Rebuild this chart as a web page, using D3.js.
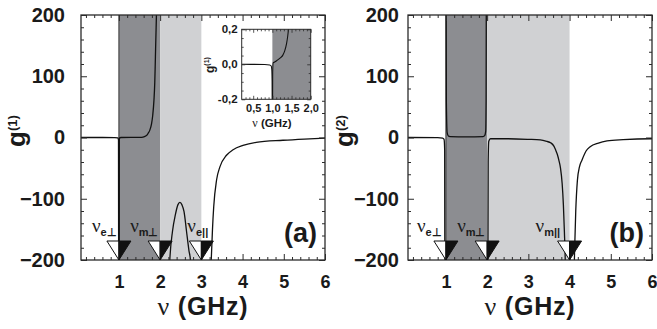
<!DOCTYPE html>
<html>
<head>
<meta charset="utf-8">
<script src="https://cdn.jsdelivr.net/npm/d3@7"></script>
<style>
    body { margin: 0; background: #fff; }
    text { font-family: "Liberation Sans", Arial, sans-serif; font-weight: bold; fill: #1a1a1a; }
    .nu { font-family: "Liberation Serif", "DejaVu Serif", serif; font-weight: normal; }
</style>
</head>
<body>
<svg id="chart" width="657" height="329"></svg>
<script>

//axis values
var x_ticks = [1, 2, 3, 4, 5, 6];
var x_minor = [0.2,0.4,0.6,0.8,1.2,1.4,1.6,1.8,2.2,2.4,2.6,2.8,3.2,3.4,3.6,3.8,4.2,4.4,4.6,4.8,5.2,5.4,5.6,5.8];
var y_ticks = [-200, -100, 0, 100, 200];
var y_minor = [-180,-160,-140,-120,-80,-60,-40,-20,20,40,60,80,120,140,160,180];

//inset axis values
var inset_x_ticks = [0.5, 1.0, 1.5, 2.0];
var inset_x_minor = [0.3,0.4,0.6,0.7,0.8,0.9,1.1,1.2,1.3,1.4,1.6,1.7,1.8,1.9];
var inset_y_ticks = [-0.2, 0.0, 0.2];
var inset_y_minor = [-0.15, -0.1, -0.05, 0.05, 0.1, 0.15];

//shaded bands [from, to, shade]
var bands_a = [[1, 2, "dark"], [2, 3, "light"]];
var bands_b = [[1, 2, "dark"], [2, 4, "light"]];
var inset_bands = [[1, 2, "dark"]];

//resonance markers
var marks_a = [1, 2, 3];
var mark_labels_a = ["e\u22a5", "m\u22a5", "e||"];
var marks_b = [1, 2, 4];
var mark_labels_b = ["e\u22a5", "m\u22a5", "m||"];

//g(1) branches, [nu, g]
var g1_branch_1 = [[0.08,0],[0.6,0],[0.9,-0.1],[0.97,-0.6],[0.99,-4],[0.997,-400]];
var g1_branch_2 = [[1.003,-400],[1.01,-1],[1.05,0],[1.3,0.1],[1.55,0.3],[1.62,1.5],[1.68,4],[1.71,7],[1.75,12],[1.79,22],[1.82,36],[1.85,61],[1.87,90],[1.88,116],[1.89,145],[1.90,172],[1.91,200],[1.925,260]];
var g1_branch_3 = [[2.2,-260],[2.235,-200],[2.30,-153],[2.37,-126],[2.43,-110],[2.48,-106],[2.53,-110],[2.58,-121],[2.64,-153],[2.70,-185],[2.735,-200],[2.77,-260]];
var g1_branch_4 = [[3.21,-260],[3.24,-200],[3.27,-150],[3.30,-113],[3.37,-69],[3.45,-48],[3.61,-29],[3.77,-20],[4.01,-13],[4.33,-8],[4.98,-4.5],[5.5,-2.5],[6,-1]];

//g(2) branches
var g2_branch_1 = [[0.08,0],[0.8,-0.3],[0.92,-1],[0.955,-3],[0.97,-20],[0.978,-400]];
var g2_branch_2 = [[1.0,400],[1.01,60],[1.03,8],[1.06,2.5],[1.1,1.5],[1.5,1],[1.9,1.5],[1.94,3],[1.965,10],[1.975,60],[1.985,400]];
var g2_branch_3 = [[2.012,-400],[2.025,-40],[2.04,-6],[2.08,-2],[2.5,-2],[3.0,-3],[3.29,-4],[3.45,-6.5],[3.54,-8.5],[3.62,-14],[3.66,-20],[3.70,-27],[3.74,-37],[3.78,-50],[3.82,-75],[3.85,-110],[3.875,-155],[3.895,-200],[3.91,-260]];
var g2_branch_4 = [[4.10,-260],[4.12,-190],[4.15,-120],[4.19,-70],[4.24,-48],[4.30,-37],[4.40,-22],[4.50,-15],[4.70,-9],[4.91,-5.6],[5.3,-3.5],[5.96,-2],[6,-2]];

//inset g(1) branches
var inset_branch_1 = [[0.2,0],[0.8,-0.001],[0.93,-0.004],[0.97,-0.01],[0.985,-0.03],[0.993,-0.1],[0.998,-0.4]];
var inset_branch_2 = [[1.003,-0.4],[1.008,-0.05],[1.02,0.008],[1.06,0.013],[1.12,0.022],[1.2,0.035],[1.27,0.051],[1.32,0.075],[1.37,0.118],[1.40,0.16],[1.43,0.22]];


var svg = d3.select("#chart");
var dark_fill = "#8c8d91",
    light_fill = "#d0d1d3",
    axis_col = "#2b2b2b",
    nu_domain = [0.08, 6],
    g_domain = [-200, 200],
    plot_w = 244,
    plot_top = 15,
    plot_bottom = 260;

var comma_fmt = d3.formatLocale({decimal: ",", thousands: ".", grouping: [3], currency: ["", ""], minus: "-"}).format(".1f");

function strip_axis(sel) {
    //remove the d3 domain path, the frame is drawn separately
    sel.select(".domain").remove();
    sel.attr("font-family", null).attr("font-size", null).attr("color", axis_col);
}

function draw_ticks(g, x_scale, y_scale, cfg) {
    var x0 = x_scale.range()[0], x1 = x_scale.range()[1];
    var y0 = y_scale.range()[0], y1 = y_scale.range()[1];

    //minor ticks on all four sides
    g.append("g").attr("transform", "translate(0," + y0 + ")")
        .call(d3.axisBottom(x_scale).tickValues(cfg.x_minor).tickSize(-cfg.minor).tickFormat(""))
        .call(strip_axis);
    g.append("g").attr("transform", "translate(0," + y1 + ")")
        .call(d3.axisTop(x_scale).tickValues(cfg.x_minor).tickSize(-cfg.minor).tickFormat(""))
        .call(strip_axis);
    g.append("g").attr("transform", "translate(" + x0 + ",0)")
        .call(d3.axisLeft(y_scale).tickValues(cfg.y_minor).tickSize(-cfg.minor).tickFormat(""))
        .call(strip_axis);
    g.append("g").attr("transform", "translate(" + x1 + ",0)")
        .call(d3.axisRight(y_scale).tickValues(cfg.y_minor).tickSize(-cfg.minor).tickFormat(""))
        .call(strip_axis);

    //major ticks
    var bottom = g.append("g").attr("transform", "translate(0," + y0 + ")")
        .call(d3.axisBottom(x_scale).tickValues(cfg.x_ticks).tickSize(-cfg.major).tickPadding(cfg.x_pad).tickFormat(cfg.x_fmt))
        .call(strip_axis);
    bottom.selectAll("text").style("font-size", cfg.x_font + "px");

    g.append("g").attr("transform", "translate(0," + y1 + ")")
        .call(d3.axisTop(x_scale).tickValues(cfg.x_ticks).tickSize(-cfg.major).tickFormat(""))
        .call(strip_axis);

    var left = g.append("g").attr("transform", "translate(" + x0 + ",0)")
        .call(d3.axisLeft(y_scale).tickValues(cfg.y_ticks).tickSize(-cfg.major).tickPadding(cfg.y_pad).tickFormat(cfg.y_fmt))
        .call(strip_axis);
    left.selectAll("text").style("font-size", cfg.y_font + "px");

    g.append("g").attr("transform", "translate(" + x1 + ",0)")
        .call(d3.axisRight(y_scale).tickValues(cfg.y_ticks).tickSize(-cfg.major).tickFormat(""))
        .call(strip_axis);

    g.selectAll(".tick line").attr("stroke-width", cfg.tick_w);

    //frame
    g.append("rect")
        .attr("x", x0).attr("y", y1)
        .attr("width", x1 - x0).attr("height", y0 - y1)
        .attr("fill", "none").attr("stroke", axis_col).attr("stroke-width", cfg.frame_w);
}

function draw_bands(g, bands, x_scale, y_scale) {
    g.selectAll(".band").data(bands).enter().append("rect")
        .attr("class", "band")
        .attr("x", d => x_scale(d[0]))
        .attr("width", d => x_scale(d[1]) - x_scale(d[0]))
        .attr("y", y_scale.range()[1])
        .attr("height", y_scale.range()[0] - y_scale.range()[1])
        .attr("fill", d => d[2] === "dark" ? dark_fill : light_fill);
}

function draw_curves(g, branches, x_scale, y_scale, clip_id, w) {
    svg.append("defs").append("clipPath").attr("id", clip_id)
        .append("rect")
        .attr("x", x_scale.range()[0]).attr("y", y_scale.range()[1])
        .attr("width", x_scale.range()[1] - x_scale.range()[0])
        .attr("height", y_scale.range()[0] - y_scale.range()[1]);

    var line = d3.line()
        .x(d => x_scale(d[0]))
        .y(d => y_scale(d[1]))
        .curve(d3.curveMonotoneX);

    g.append("g").attr("clip-path", "url(#" + clip_id + ")")
        .selectAll("path").data(branches).enter().append("path")
        .attr("d", line)
        .attr("fill", "none")
        .attr("stroke", "#111")
        .attr("stroke-width", w);
}

function y_title(g, x, y, size, sup, sup_size, sup_dy) {
    var t = g.append("text")
        .attr("transform", "translate(" + x + "," + y + ") rotate(-90)");
    t.append("tspan").style("font-size", size + "px").text("g");
    t.append("tspan").style("font-size", sup_size + "px").attr("dy", sup_dy).text(sup);
}

function draw_panel(p) {
    var x_scale = d3.scaleLinear().domain(nu_domain).range([p.left, p.left + plot_w]);
    var y_scale = d3.scaleLinear().domain(g_domain).range([plot_bottom, plot_top]);
    var g = svg.append("g").attr("class", "panel_" + p.name);

    draw_bands(g, p.bands, x_scale, y_scale);

    //dark edge at the lower band border
    g.append("line")
        .attr("x1", x_scale(p.bands[0][0])).attr("x2", x_scale(p.bands[0][0]))
        .attr("y1", plot_top).attr("y2", plot_bottom)
        .attr("stroke", "#333").attr("stroke-width", 1);

    draw_curves(g, p.branches, x_scale, y_scale, "clip_" + p.name, 1.3);

    draw_ticks(g, x_scale, y_scale, {
        x_ticks: x_ticks, x_minor: x_minor, y_ticks: y_ticks, y_minor: y_minor,
        major: 6, minor: 3, x_pad: 15, y_pad: p.y_pad, x_fmt: d3.format("d"), y_fmt: d3.format("d"),
        x_font: 18, y_font: 20, tick_w: 1, frame_w: 1.3
    });

    //resonance markers: half open / half filled triangles
    var tip = y_scale(-200);
    var mk = g.selectAll(".marker").data(p.marks).enter().append("g").attr("class", "marker");
    mk.append("path")
        .attr("d", d => "M" + (x_scale(d) - 12) + "," + (tip - 19) + "L" + x_scale(d) + "," + (tip - 19) + "L" + x_scale(d) + "," + tip + "Z")
        .attr("fill", "#fff").attr("stroke", "#111").attr("stroke-width", 1);
    mk.append("path")
        .attr("d", d => "M" + x_scale(d) + "," + (tip - 19) + "L" + (x_scale(d) + 12) + "," + (tip - 19) + "L" + x_scale(d) + "," + tip + "Z")
        .attr("fill", "#111").attr("stroke", "#111").attr("stroke-width", 1);

    var lab = g.selectAll(".mark_label").data(p.marks).enter().append("text")
        .attr("class", "mark_label")
        .attr("x", (d, i) => x_scale(d) + p.label_dx[i])
        .attr("y", 232);
    lab.append("tspan").attr("class", "nu").style("font-size", "19px").text("\u03bd");
    lab.append("tspan").style("font-size", "11px").attr("dy", 4).text((d, i) => p.mark_labels[i]);

    //axis titles
    var xt = g.append("text")
        .attr("x", (x_scale.range()[0] + x_scale.range()[1]) / 2)
        .attr("y", 315)
        .attr("text-anchor", "middle")
        .style("letter-spacing", "0.8px");
    xt.append("tspan").attr("class", "nu").style("font-size", "26px").text("\u03bd");
    xt.append("tspan").style("font-size", "25px").text(" (GHz)");

    y_title(g, p.title_x, 147, 26, p.sup, 13, -8);

    g.append("text")
        .attr("x", x_scale.range()[1] - 8)
        .attr("y", 242)
        .attr("text-anchor", "end")
        .style("font-size", "27px")
        .text(p.letter);
}

draw_panel({name: "a", left: 81, y_pad: 16, title_x: 25, sup: "(1)", letter: "(a)",
    bands: bands_a, marks: marks_a, mark_labels: mark_labels_a, label_dx: [-27, -30, -14],
    branches: [g1_branch_1, g1_branch_2, g1_branch_3, g1_branch_4]});

draw_panel({name: "b", left: 408, y_pad: 9, title_x: 353, sup: "(2)", letter: "(b)",
    bands: bands_b, marks: marks_b, mark_labels: mark_labels_b, label_dx: [-29, -30, -34],
    branches: [g2_branch_1, g2_branch_2, g2_branch_3, g2_branch_4]});

//inset in panel (a)
(function draw_inset() {
    var ix = d3.scaleLinear().domain([0.2, 2.0]).range([241.7, 310.7]);
    var iy = d3.scaleLinear().domain([-0.2, 0.2]).range([99.3, 29.3]);
    var g = svg.append("g").attr("class", "inset");

    g.append("rect")
        .attr("x", 241.7).attr("y", 29.3).attr("width", 69).attr("height", 70)
        .attr("fill", "#fff");
    draw_bands(g, inset_bands, ix, iy);
    draw_curves(g, [inset_branch_1, inset_branch_2], ix, iy, "clip_inset", 1.1);
    draw_ticks(g, ix, iy, {
        x_ticks: inset_x_ticks, x_minor: inset_x_minor, y_ticks: inset_y_ticks, y_minor: inset_y_minor,
        major: 3.5, minor: 2, x_pad: 5, y_pad: 4, x_fmt: comma_fmt, y_fmt: comma_fmt,
        x_font: 11, y_font: 11.5, tick_w: 0.8, frame_w: 1
    });

    var xt = g.append("text").attr("x", 272).attr("y", 127).attr("text-anchor", "middle");
    xt.append("tspan").attr("class", "nu").style("font-size", "12px").text("\u03bd");
    xt.append("tspan").style("font-size", "11.5px").text(" (GHz)");

    y_title(g, 214, 73, 12, "(1)", 7, -5);
})();

</script>
</body>
</html>
